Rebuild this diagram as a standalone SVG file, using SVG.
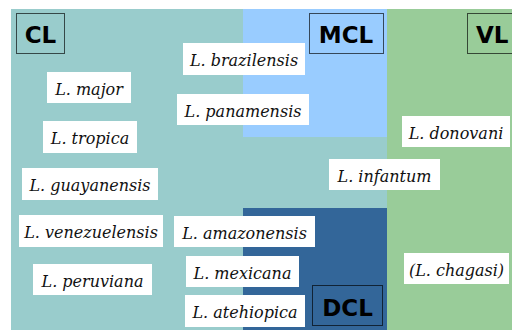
<svg xmlns="http://www.w3.org/2000/svg" width="512" height="330" viewBox="0 0 512 330">
<style>
.tag{fill:none;stroke:#000;stroke-opacity:0.65;stroke-width:1}
.tt{font-family:"DejaVu Sans",sans-serif;font-weight:bold;font-size:23px;fill:#000}
.lb{fill:#fff}
.lt{font-family:"DejaVu Serif",serif;font-style:italic;font-size:16px;fill:#111;text-anchor:middle}
</style>
<rect x="0" y="0" width="512" height="330" fill="#fff"/>
<g id="regions">
<rect x="11" y="9" width="501" height="321" fill="#99CCCC"/>
<rect x="243" y="9" width="144" height="128" fill="#99CCFF"/>
<rect x="243" y="208" width="144" height="122" fill="#336699"/>
<rect x="387" y="9" width="125" height="321" fill="#99CC99"/>
</g>
<g id="CL"><rect class="tag" x="16.5" y="13.5" width="48" height="40"/><text class="tt" x="40.5" y="43" text-anchor="middle">CL</text></g>
<g id="MCL"><rect class="tag" x="309.5" y="13.5" width="74" height="40"/><text class="tt" x="346" y="43" text-anchor="middle">MCL</text></g>
<g id="VL"><rect class="tag" x="467.5" y="13.5" width="60" height="40"/><text class="tt" x="476" y="43">VL</text></g>
<g id="DCL"><rect class="tag" x="312.5" y="285.5" width="70" height="40"/><text class="tt" x="347.5" y="316" text-anchor="middle">DCL</text></g>
<g id="brazilensis"><rect class="lb" x="183" y="43" width="122" height="32"/><text class="lt" x="244" y="66">L. brazilensis</text></g>
<g id="major"><rect class="lb" x="47" y="72" width="84" height="31"/><text class="lt" x="89" y="95">L. major</text></g>
<g id="panamensis"><rect class="lb" x="177" y="94" width="132" height="31"/><text class="lt" x="243" y="117">L. panamensis</text></g>
<g id="tropica"><rect class="lb" x="43" y="121" width="94" height="32"/><text class="lt" x="90" y="144">L. tropica</text></g>
<g id="donovani"><rect class="lb" x="402" y="116" width="108" height="31"/><text class="lt" x="456" y="139">L. donovani</text></g>
<g id="infantum"><rect class="lb" x="329" y="159" width="111" height="31"/><text class="lt" x="384.5" y="182">L. infantum</text></g>
<g id="guayanensis"><rect class="lb" x="22" y="168" width="136" height="32"/><text class="lt" x="90" y="191">L. guayanensis</text></g>
<g id="venezuelensis"><rect class="lb" x="19" y="215" width="144" height="32"/><text class="lt" x="91" y="238">L. venezuelensis</text></g>
<g id="amazonensis"><rect class="lb" x="174" y="216" width="141" height="31"/><text class="lt" x="244.5" y="239">L. amazonensis</text></g>
<g id="peruviana"><rect class="lb" x="33" y="264" width="119" height="31"/><text class="lt" x="92.5" y="287">L. peruviana</text></g>
<g id="mexicana"><rect class="lb" x="186" y="256" width="113" height="31"/><text class="lt" x="242.5" y="279">L. mexicana</text></g>
<g id="atehiopica"><rect class="lb" x="185" y="295" width="120" height="32"/><text class="lt" x="245" y="318">L. atehiopica</text></g>
<g id="chagasi"><rect class="lb" x="404" y="253" width="105" height="31"/><text class="lt" x="456.5" y="276">(L. chagasi)</text></g>
<g id="connectors"/>
</svg>
